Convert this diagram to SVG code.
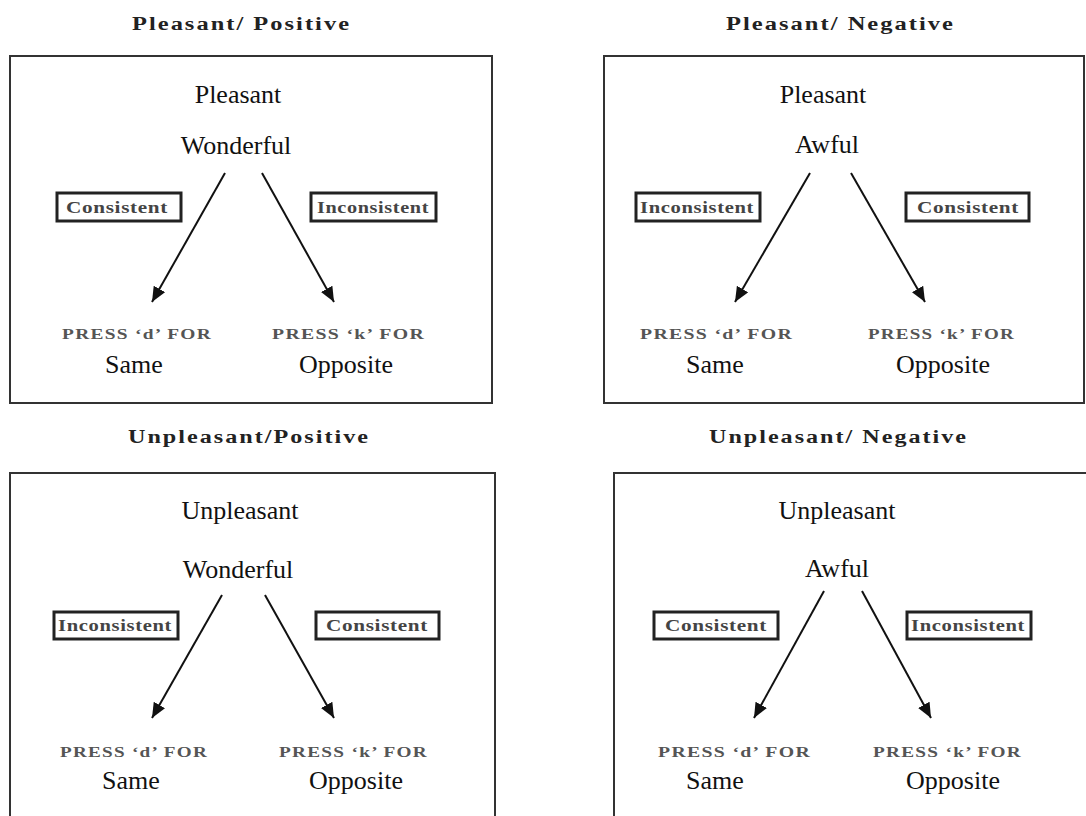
<svg xmlns="http://www.w3.org/2000/svg" width="1086" height="816" viewBox="0 0 1086 816">
<style>
  .frame { fill: none; stroke: #333; stroke-width: 2; }
  .title { font-family: "Liberation Serif", serif; font-weight: bold; font-size: 18px; letter-spacing: 1.5px; fill: #222; }
  .word { font-family: "Liberation Serif", serif; font-size: 26px; fill: #111; text-anchor: middle; }
  .tag { fill: #fff; stroke: #222; stroke-width: 3; }
  .tagtxt { font-family: "Liberation Serif", serif; font-weight: bold; font-size: 16px; letter-spacing: 0.5px; fill: #444; }
  .press { font-family: "Liberation Serif", serif; font-weight: bold; font-size: 15px; letter-spacing: 1px; fill: #555; }
  .arrow { fill: none; stroke: #111; stroke-width: 2; marker-end: url(#head); }
</style>
<defs>
  <marker id="head" markerUnits="userSpaceOnUse" markerWidth="15" markerHeight="13" viewBox="0 0 15 13" refX="15" refY="6.5" orient="auto">
    <path d="M0,0 L15,6.5 L0,13 Z" fill="#111"/>
  </marker>
</defs>
<rect width="1086" height="816" fill="#fff"/>

<g id="panel-pleasant-positive">
  <text class="title" x="132" y="30" textLength="219" lengthAdjust="spacingAndGlyphs">Pleasant/ Positive</text>
  <rect class="frame" x="10" y="56" width="482" height="347"/>
  <text class="word" x="238" y="103">Pleasant</text>
  <text class="word" x="236" y="154">Wonderful</text>
  <rect class="tag" x="57" y="193" width="124" height="28"/>
  <text class="tagtxt" x="66" y="213" textLength="102" lengthAdjust="spacingAndGlyphs">Consistent</text>
  <rect class="tag" x="311" y="193" width="125" height="28"/>
  <text class="tagtxt" x="317" y="213" textLength="112" lengthAdjust="spacingAndGlyphs">Inconsistent</text>
  <text class="press" x="62" y="339" textLength="150" lengthAdjust="spacingAndGlyphs">PRESS ‘d’ FOR</text>
  <text class="press" x="272" y="339" textLength="153" lengthAdjust="spacingAndGlyphs">PRESS ‘k’ FOR</text>
  <text class="word" x="134" y="373">Same</text>
  <text class="word" x="346" y="373">Opposite</text>
</g>

<g id="panel-pleasant-negative">
  <text class="title" x="726" y="30" textLength="229" lengthAdjust="spacingAndGlyphs">Pleasant/ Negative</text>
  <rect class="frame" x="604" y="56" width="480" height="347"/>
  <text class="word" x="823" y="103">Pleasant</text>
  <text class="word" x="827" y="153">Awful</text>
  <rect class="tag" x="636" y="193" width="124" height="28"/>
  <text class="tagtxt" x="640" y="213" textLength="114" lengthAdjust="spacingAndGlyphs">Inconsistent</text>
  <rect class="tag" x="906" y="193" width="123" height="28"/>
  <text class="tagtxt" x="917" y="213" textLength="102" lengthAdjust="spacingAndGlyphs">Consistent</text>
  <text class="press" x="640" y="339" textLength="153" lengthAdjust="spacingAndGlyphs">PRESS ‘d’ FOR</text>
  <text class="press" x="868" y="339" textLength="147" lengthAdjust="spacingAndGlyphs">PRESS ‘k’ FOR</text>
  <text class="word" x="715" y="373">Same</text>
  <text class="word" x="943" y="373">Opposite</text>
</g>

<g id="panel-unpleasant-positive">
  <text class="title" x="128" y="443" textLength="242" lengthAdjust="spacingAndGlyphs">Unpleasant/Positive</text>
  <rect class="frame" x="10" y="473" width="485" height="360"/>
  <text class="word" x="240" y="519">Unpleasant</text>
  <text class="word" x="238" y="578">Wonderful</text>
  <rect class="tag" x="54" y="612" width="124" height="27"/>
  <text class="tagtxt" x="58" y="631" textLength="114" lengthAdjust="spacingAndGlyphs">Inconsistent</text>
  <rect class="tag" x="316" y="612" width="123" height="27"/>
  <text class="tagtxt" x="326" y="631" textLength="102" lengthAdjust="spacingAndGlyphs">Consistent</text>
  <text class="press" x="60" y="757" textLength="148" lengthAdjust="spacingAndGlyphs">PRESS ‘d’ FOR</text>
  <text class="press" x="279" y="757" textLength="149" lengthAdjust="spacingAndGlyphs">PRESS ‘k’ FOR</text>
  <text class="word" x="131" y="789">Same</text>
  <text class="word" x="356" y="789">Opposite</text>
</g>

<g id="panel-unpleasant-negative">
  <text class="title" x="709" y="443" textLength="259" lengthAdjust="spacingAndGlyphs">Unpleasant/ Negative</text>
  <rect class="frame" x="614" y="473" width="490" height="360"/>
  <text class="word" x="837" y="519">Unpleasant</text>
  <text class="word" x="837" y="577">Awful</text>
  <rect class="tag" x="654" y="612" width="124" height="27"/>
  <text class="tagtxt" x="665" y="631" textLength="102" lengthAdjust="spacingAndGlyphs">Consistent</text>
  <rect class="tag" x="907" y="612" width="124" height="27"/>
  <text class="tagtxt" x="911" y="631" textLength="114" lengthAdjust="spacingAndGlyphs">Inconsistent</text>
  <text class="press" x="658" y="757" textLength="153" lengthAdjust="spacingAndGlyphs">PRESS ‘d’ FOR</text>
  <text class="press" x="873" y="757" textLength="149" lengthAdjust="spacingAndGlyphs">PRESS ‘k’ FOR</text>
  <text class="word" x="715" y="789">Same</text>
  <text class="word" x="953" y="789">Opposite</text>
</g>

<g id="connectors">
  <line class="arrow" x1="225" y1="173" x2="152" y2="302"/>
  <line class="arrow" x1="262" y1="173" x2="334" y2="302"/>
  <line class="arrow" x1="810" y1="173" x2="735" y2="302"/>
  <line class="arrow" x1="851" y1="173" x2="925" y2="302"/>
  <line class="arrow" x1="222" y1="595" x2="152" y2="718"/>
  <line class="arrow" x1="265" y1="595" x2="334" y2="718"/>
  <line class="arrow" x1="824" y1="591" x2="754" y2="718"/>
  <line class="arrow" x1="862" y1="591" x2="931" y2="718"/>
</g>
</svg>
